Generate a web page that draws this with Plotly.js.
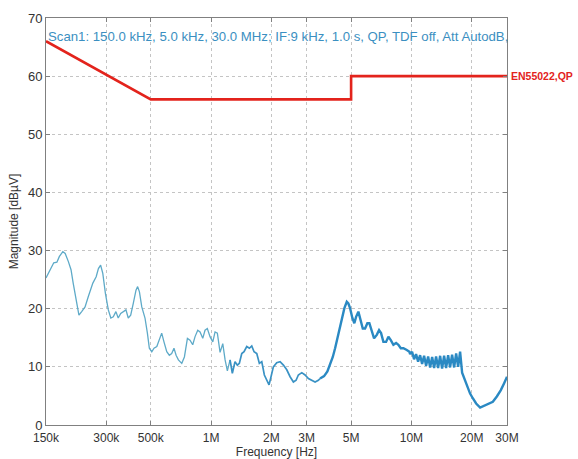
<!DOCTYPE html>
<html>
<head>
<meta charset="utf-8">
<script src="https://cdn.plot.ly/plotly-3.0.1.min.js"></script>
<style>
html,body{margin:0;padding:0;background:#fff;}
#chart{width:578px;height:459px;}
</style>
</head>
<body>
<div id="chart"></div>
<script>
// Measured spectrum, low-frequency part (kHz, dBµV)
const lowFreqKHz = [150,157,164,170,175,182,187,194,200,205,212,219,226,235,244,251,257,267,274,281,288,297,307,316,325,335,344,354,365,376,386,397,409,422,430,439,451,468,481,492,506,519,536,552,567,582,601,619,636,653,669,687,714,736,762,785,810,832,858,881,909,933,958,988,1020,1047,1075,1109,1144,1175,1206,1244];
const lowDb = [25.3,26.7,27.9,28.0,29.0,29.8,29.5,28.1,26.7,24.4,21.5,18.9,19.5,20.3,22.1,23.2,24.4,25.5,26.9,27.5,26.1,22.6,19.8,18.4,18.6,19.5,18.4,19.2,19.5,19.8,18.4,18.9,20.9,23.2,23.8,22.9,20.3,18.4,15.8,13.2,12.6,13.2,13.5,14.9,15.8,14.3,12.6,12.0,12.3,13.2,12.0,11.2,10.6,11.7,14.9,14.6,13.8,15.2,16.3,16.0,14.9,16.3,16.6,15.2,14.3,16.0,15.8,12.5,14.0,11.2,9.3,11.2];

// Measured spectrum, middle part (kHz, dBµV)
const midFreqKHz = [1244,1277,1317,1353,1384,1423,1461,1507,1553,1596,1639,1691,1742,1791,1845,1897,1947,1992,2046,2127,2211,2296,2387,2480,2576,2657,2727,2836,2946,3060,3182,3305,3432,3500];
const midDb = [11.2,8.9,10.9,10.3,10.6,12.3,12.6,13.5,13.2,13.6,12.6,12.3,10.6,10.9,8.6,7.7,6.9,8.3,10.0,10.7,10.9,10.3,9.5,8.3,7.4,7.7,8.6,9.0,8.6,8.0,7.7,7.4,7.7,8.0];

// Measured spectrum, high-frequency part (kHz, dBµV)
const highFreqKHz = [3500,3665,3807,3927,4051,4160,4291,4406,4524,4629,4757,4845,4941,5073,5191,5294,5436,5588,5718,5871,6028,6168,6341,6510,6716,6896,7056,7247,7475,7676,7890,8130,8387,8612,8853,9122,9483,9771,9850,
10080,10310,10550,10800,11050,11310,11570,11840,12120,12400,12690,12980,13280,13590,13910,14230,14560,14900,15250,15600,15960,16340,16720,17110,17500,17910,
18530,19114,19630,20250,21040,22030,23070,24230,25490,26690,27950,29030,30000];
const highDb = [8.0,8.4,9.2,10.3,11.7,13.2,15.2,16.9,18.6,20.1,21.2,20.9,20.1,18.4,17.5,18.6,19.5,18.1,16.6,16.6,17.5,17.5,16.0,14.9,15.5,16.3,15.8,14.3,14.3,15.2,14.6,13.8,14.1,13.8,13.2,13.2,12.9,12.6,12.2,
12.6,11.3,12.2,10.9,12.0,10.5,11.9,10.2,11.8,9.9,11.7,9.8,11.8,9.8,11.9,9.7,11.9,9.8,12.0,9.9,12.1,9.9,12.3,10.0,12.6,9.0,
7.7,6.6,5.4,4.6,3.7,3.0,3.3,3.6,4.0,4.9,6.0,7.2,8.3];

// EN55022 QP limit line
const limitFreqHz = [150e3, 500e3, 5e6, 5e6, 30e6];
const limitDb = [66, 56, 56, 60, 60];

// Axis ticks
const xTickVals = [150e3,300e3,500e3,1e6,2e6,3e6,5e6,10e6,20e6,30e6];
const xTickText = ['150k','300k','500k','1M','2M','3M','5M','10M','20M','30M'];
const yTickVals = [0,10,20,30,40,50,60,70];

const scanText = 'Scan1: 150.0 kHz, 5.0 kHz, 30.0 MHz; IF:9 kHz, 1.0 s, QP, TDF off, Att AutodB,';
const limitName = 'EN55022,QP';

const toHz = a => a.map(v => v * 1000);

const traces = [
  {x: toHz(lowFreqKHz), y: lowDb, type:'scatter', mode:'lines',
   line:{color:'#5eaac8', width:1.3}, hoverinfo:'skip'},
  {x: toHz(midFreqKHz), y: midDb, type:'scatter', mode:'lines',
   line:{color:'#3a92c4', width:1.7}, hoverinfo:'skip'},
  {x: toHz(highFreqKHz), y: highDb, type:'scatter', mode:'lines',
   line:{color:'#2a89c3', width:2.4}, hoverinfo:'skip'},
  {x: limitFreqHz, y: limitDb, type:'scatter', mode:'lines',
   line:{color:'#e3231c', width:2.6}, hoverinfo:'skip'}
];

const font = {family:'"Liberation Sans", Arial, sans-serif', color:'#333333'};

const layout = {
  width:578, height:459,
  margin:{l:46, r:71, t:18, b:34},
  paper_bgcolor:'#ffffff', plot_bgcolor:'#ffffff',
  showlegend:false,
  font: font,
  xaxis:{
    type:'log',
    range:[Math.log10(150e3), Math.log10(30e6)],
    tickvals:xTickVals, ticktext:xTickText,
    tickfont:{size:12, color:'#333333'},
    ticklabelstandoff:2,
    showgrid:true, gridcolor:'#c4c4c4', griddash:'dot', gridwidth:1,
    showline:true, linecolor:'#808080', linewidth:1, mirror:'ticks',
    ticks:'inside', ticklen:4, tickcolor:'#808080',
    zeroline:false,
    title:{text:'Frequency [Hz]', font:{size:12, color:'#333333'}, standoff:4}
  },
  yaxis:{
    range:[0,70],
    tickvals:yTickVals,
    tickfont:{size:13, color:'#333333'},
    showgrid:true, gridcolor:'#c4c4c4', griddash:'dot', gridwidth:1,
    showline:true, linecolor:'#808080', linewidth:1, mirror:'ticks',
    ticks:'inside', ticklen:4, tickcolor:'#808080',
    zeroline:false,
    title:{text:'Magnitude [dBµV]', font:{size:12, color:'#333333'}, standoff:6}
  },
  annotations:[
    {xref:'paper', yref:'paper', x:0.0, y:0.955, xanchor:'left', yanchor:'middle',
     text:scanText, showarrow:false, font:{size:13.2, color:'#3b8fc1', family:font.family}},
    {xref:'paper', yref:'y', x:1.004, y:60, xanchor:'left', yanchor:'middle',
     text:'<b>'+limitName+'</b>', showarrow:false, font:{size:10.5, color:'#e3231c', family:font.family}}
  ]
};

Plotly.newPlot('chart', traces, layout, {displayModeBar:false, staticPlot:true});
</script>
</body>
</html>
